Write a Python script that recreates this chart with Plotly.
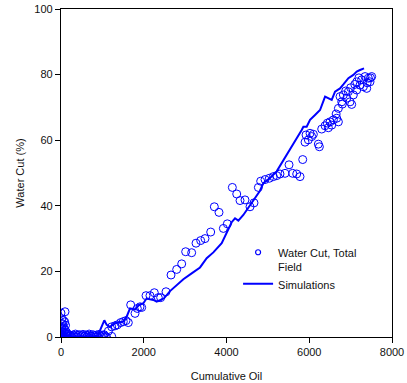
import plotly.graph_objects as go

# Observed field water cut (Cumulative Oil, Water Cut %)
field_x = [0, 97, 20, 60, 90, 10, 40, 110, 5, 70, 30, 100, 15, 50, 80, 0, 120, 25, 65, 0, 45, 130, 150, 140,
           170, 200, 230, 260, 290, 320, 350, 380, 410, 440, 470, 500, 530, 560, 590, 620, 650, 680, 710,
           740, 770, 800, 830, 860, 890, 920, 950, 980, 1010, 1040, 1070,
           1100, 1225, 1145, 1225, 1305, 1360, 1443, 1506, 1571, 1627, 1684, 1789, 1845, 1910, 1950,
           2055, 2150, 2256, 2352, 2409, 2538, 2659, 2796, 2917, 3013, 3158, 3263, 3376, 3480, 3618,
           3706, 3819, 3924, 4020, 4141, 4247, 4327, 4447, 4568, 4665, 4770, 4826, 4931, 5036, 5132,
           5213, 5293, 5414, 5511, 5600, 5697, 5777, 5842, 5898, 5922, 5978, 6019, 6059, 6099, 6220,
           6245, 6301, 6382, 6438, 6462, 6502, 6543, 6583, 6664, 6704, 6704, 6744, 6785, 6825, 6906,
           6946, 6986, 7026, 7066, 7147, 7147, 7227, 7268, 7308, 7348, 7389, 7429, 7469, 7509,
           7000, 7100, 7200, 7400, 7480, 6880, 6800, 6650]
field_y = [7.3, 7.7, 5.5, 5.0, 4.6, 4.2, 3.8, 3.6, 3.0, 2.8, 2.4, 2.1, 1.8, 1.5, 1.2, 1.0, 0.8, 0.6, 0.4, 0.2, 0.0, 1.5, 1.0, 0.3,
           0.8, 0.2, 0.5, 0.0, 0.6, 0.3, 0.9, 0.1, 0.5, 0.7, 0.0, 0.4, 0.8, 0.2, 0.6, 0.0, 0.5, 0.9, 0.3,
           0.1, 0.7, 0.4, 0.0, 0.6, 0.2, 0.8, 0.3, 0.0, 0.5, 0.7, 0.2,
           0.0, 0.2, 1.8, 3.1, 3.4, 3.7, 4.4, 4.7, 5.0, 4.4, 9.8, 7.2, 8.7, 9.2, 9.0,
           12.6, 12.6, 13.5, 12.0, 12.0, 13.8, 18.9, 20.6, 22.3, 26.0, 25.7, 28.6, 29.4, 30.0, 32.0,
           39.7, 38.0, 33.1, 34.5, 45.6, 43.6, 41.6, 41.8, 39.7, 40.9, 45.6, 47.5, 48.0, 48.4, 48.9,
           49.2, 49.7, 49.9, 52.5, 49.9, 49.7, 48.9, 54.1, 59.4, 61.6, 60.1, 62.1, 61.1, 61.8, 58.8,
           58.0, 63.4, 64.4, 65.2, 63.8, 65.6, 64.6, 66.2, 66.7, 65.6, 69.7, 73.3, 71.7, 73.8, 72.8,
           74.8, 71.7, 70.9, 73.8, 75.3, 77.8, 76.8, 78.4, 76.3, 79.4, 75.8, 78.9, 77.8, 79.4,
           76.0, 77.0, 79.0, 77.5, 79.0, 75.0, 71.0, 68.0]

# Simulation curve
sim_x = [0, 15, 30, 50, 80, 150, 400, 700, 900, 928, 1000, 1047, 1104, 1185, 1305, 1506, 1587, 1668,
         1789, 1869, 1990, 2071, 2150, 2231, 2312, 2393, 2490, 2635, 2796, 2957, 3158, 3360, 3521,
         3682, 3884, 4005, 4125, 4206, 4286, 4407, 4528, 4648, 4810, 4890, 5052, 5213, 5374, 5535,
         5697, 5818, 5858, 5938, 6019, 6140, 6261, 6382, 6462, 6543, 6623, 6744, 6825, 6946, 7066,
         7147, 7227, 7324]
sim_y = [0, 2.5, 0.5, 1.5, 0.3, 0.2, 0.1, 0.1, 0.3, 1.6, 3.5, 5.1, 3.7, 3.1, 4.2, 4.7, 6.2, 8.7,
         8.4, 9.6, 10.3, 11.8, 11.5, 11.3, 10.8, 11.3, 11.8, 14.0, 15.9, 17.6, 19.4, 21.2, 24.0,
         25.8, 28.6, 31.8, 35.0, 36.2, 35.5, 37.2, 39.5, 41.8, 44.6, 46.9, 48.5, 50.5, 54.0, 57.5,
         60.6, 63.1, 64.1, 64.1, 66.2, 67.7, 69.2, 73.3, 72.8, 72.3, 74.8, 75.8, 77.0, 78.9, 79.9,
         80.9, 81.4, 81.9]

blue = "#0000FF"
font = dict(family="Liberation Sans, Arial", size=11, color="#111")
fig = go.Figure()
fig.add_trace(go.Scatter(
    x=field_x, y=field_y, mode="markers", name="Water Cut, Total<br>Field", showlegend=False,
    marker=dict(symbol="circle-open", size=8, color=blue, line=dict(width=1, color=blue))))
# legend-only entry with a smaller symbol, like the reference legend
fig.add_trace(go.Scatter(
    x=[None], y=[None], mode="markers", name="Water Cut, Total<br>Field",
    marker=dict(symbol="circle-open", size=5, color=blue, line=dict(width=1.2, color=blue))))
fig.add_trace(go.Scatter(
    x=sim_x, y=sim_y, mode="lines", name="Simulations",
    line=dict(color=blue, width=2)))

axis_common = dict(showline=True, linecolor="black", linewidth=1.3, mirror=True,
                   ticks="outside", ticklen=5, tickcolor="black", tickwidth=1,
                   showgrid=False, zeroline=False, tickfont=font, automargin=False)
fig.update_xaxes(range=[0, 8000], tickvals=[0, 2000, 4000, 6000, 8000],
                 title=dict(text="Cumulative Oil", font=font, standoff=14),
                 **axis_common)
fig.update_yaxes(range=[0, 100], tickvals=[0, 20, 40, 60, 80, 100],
                 title=dict(text="Water Cut (%)", font=font, standoff=7),
                 **axis_common)
fig.update_layout(
    width=407, height=383,
    margin=dict(l=61, r=15, t=9, b=46),
    paper_bgcolor="white", plot_bgcolor="white",
    showlegend=True,
    legend=dict(x=0.535, y=0.3, xanchor="left", yanchor="top", bgcolor="rgba(0,0,0,0)",
                valign="top", font=font, tracegroupgap=0, itemwidth=30),
)
fig.write_html("out.html")
